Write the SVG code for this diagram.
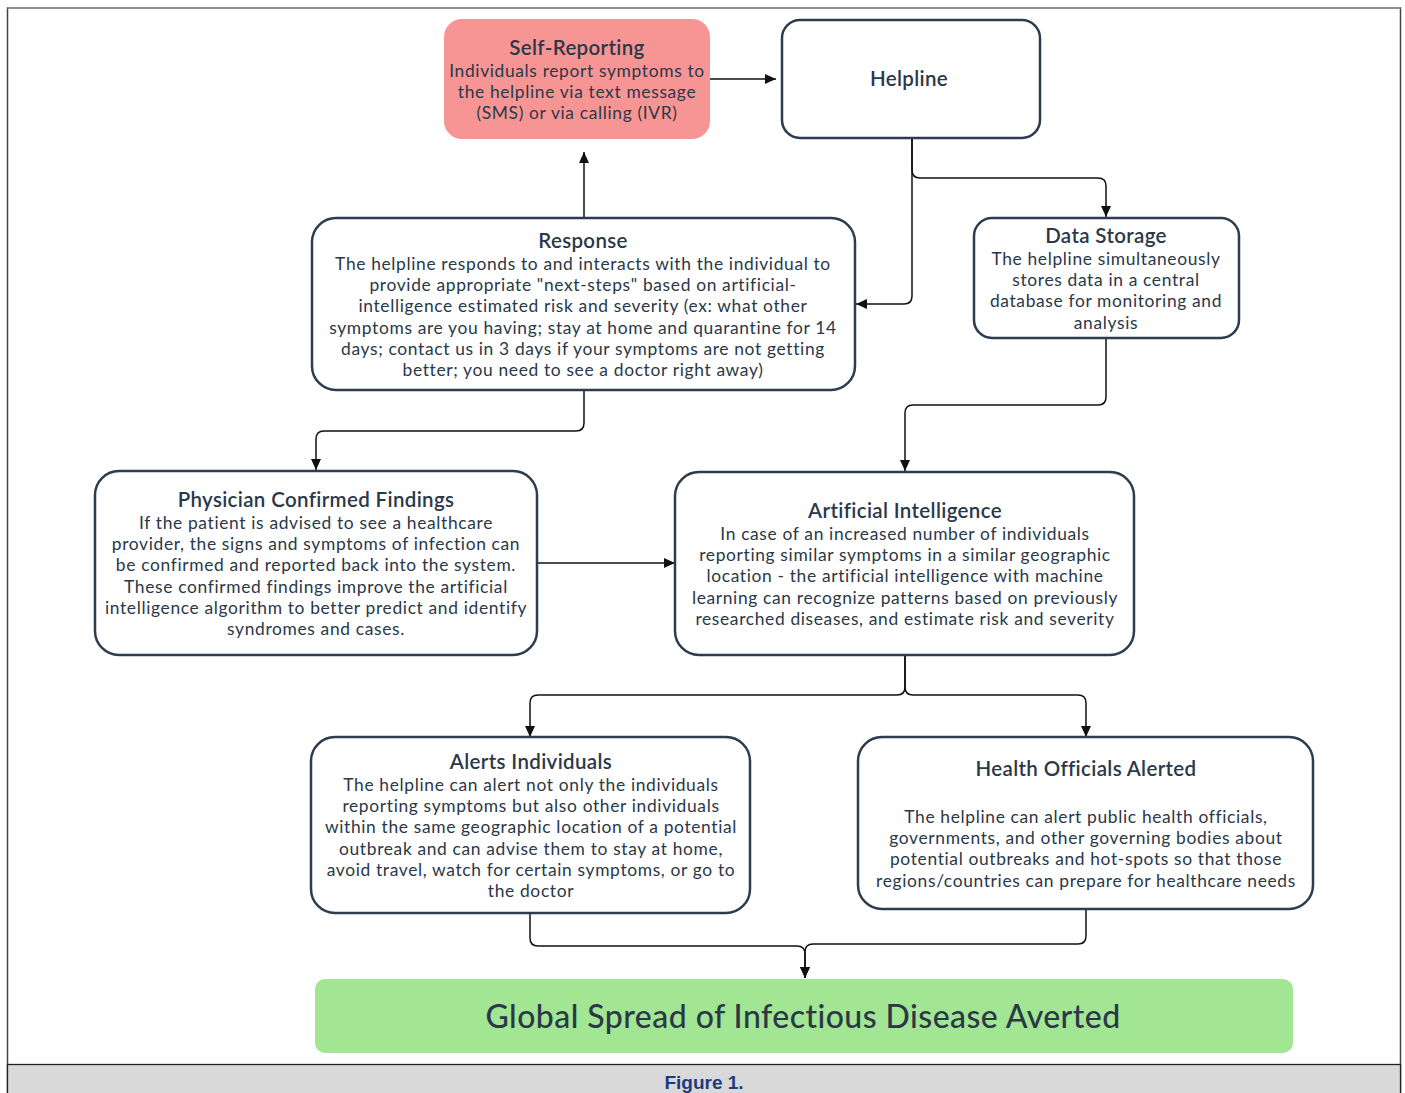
<svg xmlns="http://www.w3.org/2000/svg" width="1405" height="1093" viewBox="0 0 1405 1093">
<defs>
<marker id="arr" markerUnits="userSpaceOnUse" markerWidth="12" markerHeight="12" viewBox="0 0 12 12" refX="11" refY="6" orient="auto">
<path d="M0,1 L11,6 L0,11 Z" fill="#111"/>
</marker>
<style>
.box{fill:#fff;stroke:#2e3d4d;stroke-width:2.5}
.t{font-family:Lato,"Open Sans","Liberation Sans",sans-serif;fill:#2a3848;text-anchor:middle}
.h{font-size:20.5px;font-weight:600;letter-spacing:0.35px}
.b{font-size:17.4px;letter-spacing:0.65px}
.c{fill:none;stroke:#111;stroke-width:1.5;marker-end:url(#arr)}
</style>
</defs>
<rect x="0" y="0" width="1405" height="1093" fill="#fff"/>
<rect x="7.5" y="8" width="1393" height="1100" fill="#fff" stroke="#444" stroke-width="1.5"/>
<line x1="7.5" y1="8" x2="1400.5" y2="8" stroke="#999" stroke-width="1.5"/>
<rect x="7.5" y="1064.5" width="1393" height="40" fill="#d9d9d9" stroke="#222" stroke-width="1.3"/>
<text x="704" y="1089" font-family="'Liberation Sans',Arial,sans-serif" font-weight="bold" font-size="19" fill="#1d3b80" text-anchor="middle">Figure 1.</text>

<g id="connectors">
<path class="c" d="M710,79 H776"/>
<path class="c" d="M584,218 V152"/>
<path class="c" d="M912,138 V296 Q912,304 904,304 H856"/>
<path class="c" d="M912,138 V170 Q912,178 920,178 H1098 Q1106,178 1106,186 V217"/>
<path class="c" d="M1106,338 V397 Q1106,405 1098,405 H913 Q905,405 905,413 V471"/>
<path class="c" d="M584,390 V423 Q584,431 576,431 H324 Q316,431 316,439 V470"/>
<path class="c" d="M537,563 H675"/>
<path class="c" d="M905,655 V687 Q905,695 897,695 H538 Q530,695 530,703 V737"/>
<path class="c" d="M905,655 V687 Q905,695 913,695 H1078 Q1086,695 1086,703 V737"/>
<path class="c" d="M530,913 V938 Q530,946 538,946 H797 Q805,946 805,954 V978"/>
<path class="c" d="M1086,909 V936 Q1086,944 1078,944 H813 Q805,944 805,952 V978"/>
</g>

<g id="self-reporting">
<rect x="444" y="19" width="266" height="120" rx="18" fill="#f79595"/>
<text class="t h" x="577" y="55">Self-Reporting</text>
<text class="t b" x="577" y="77">Individuals report symptoms to</text>
<text class="t b" x="577" y="98">the helpline via text message</text>
<text class="t b" x="577" y="119">(SMS) or via calling (IVR)</text>
</g>

<g id="helpline">
<rect class="box" x="782" y="20" width="258" height="118" rx="18"/>
<text class="t h" x="909" y="86">Helpline</text>
</g>

<g id="response">
<rect class="box" x="312" y="218" width="543" height="172" rx="24"/>
<text class="t h" x="583" y="248">Response</text>
<text class="t b" x="583" y="270">The helpline responds to and interacts with the individual to</text>
<text class="t b" x="583" y="291.2">provide appropriate "next-steps" based on artificial-</text>
<text class="t b" x="583" y="312.4">intelligence estimated risk and severity (ex: what other</text>
<text class="t b" x="583" y="333.6">symptoms are you having; stay at home and quarantine for 14</text>
<text class="t b" x="583" y="354.8">days; contact us in 3 days if your symptoms are not getting</text>
<text class="t b" x="583" y="376">better; you need to see a doctor right away)</text>
</g>

<g id="data-storage">
<rect class="box" x="974" y="218" width="265" height="120" rx="18"/>
<text class="t h" x="1106" y="243">Data Storage</text>
<text class="t b" x="1106" y="265">The helpline simultaneously</text>
<text class="t b" x="1106" y="286.2">stores data in a central</text>
<text class="t b" x="1106" y="307.4">database for monitoring and</text>
<text class="t b" x="1106" y="328.6">analysis</text>
</g>

<g id="physician">
<rect class="box" x="95" y="471" width="442" height="184" rx="24"/>
<text class="t h" x="316" y="507">Physician Confirmed Findings</text>
<text class="t b" x="316" y="529">If the patient is advised to see a healthcare</text>
<text class="t b" x="316" y="550.2">provider, the signs and symptoms of infection can</text>
<text class="t b" x="316" y="571.4">be confirmed and reported back into the system.</text>
<text class="t b" x="316" y="592.6">These confirmed findings improve the artificial</text>
<text class="t b" x="316" y="613.8">intelligence algorithm to better predict and identify</text>
<text class="t b" x="316" y="635">syndromes and cases.</text>
</g>

<g id="ai">
<rect class="box" x="675" y="472" width="459" height="183" rx="24"/>
<text class="t h" x="905" y="518">Artificial Intelligence</text>
<text class="t b" x="905" y="540">In case of an increased number of individuals</text>
<text class="t b" x="905" y="561.2">reporting similar symptoms in a similar geographic</text>
<text class="t b" x="905" y="582.4">location - the artificial intelligence with machine</text>
<text class="t b" x="905" y="603.6">learning can recognize patterns based on previously</text>
<text class="t b" x="905" y="624.8">researched diseases, and estimate risk and severity</text>
</g>

<g id="alerts">
<rect class="box" x="311" y="737" width="439" height="176" rx="24"/>
<text class="t h" x="531" y="768.5">Alerts Individuals</text>
<text class="t b" x="531" y="791">The helpline can alert not only the individuals</text>
<text class="t b" x="531" y="812.2">reporting symptoms but also other individuals</text>
<text class="t b" x="531" y="833.4">within the same geographic location of a potential</text>
<text class="t b" x="531" y="854.6">outbreak and can advise them to stay at home,</text>
<text class="t b" x="531" y="875.8">avoid travel, watch for certain symptoms, or go to</text>
<text class="t b" x="531" y="897">the doctor</text>
</g>

<g id="health-officials">
<rect class="box" x="858" y="737" width="455" height="172" rx="24"/>
<text class="t h" x="1086" y="776">Health Officials Alerted</text>
<text class="t b" x="1086" y="823">The helpline can alert public health officials,</text>
<text class="t b" x="1086" y="844.2">governments, and other governing bodies about</text>
<text class="t b" x="1086" y="865.4">potential outbreaks and hot-spots so that those</text>
<text class="t b" x="1086" y="886.6">regions/countries can prepare for healthcare needs</text>
</g>

<g id="global">
<rect x="315" y="979" width="978" height="74" rx="10" fill="#a2e693"/>
<text class="t" x="803" y="1028" font-size="32" font-weight="500" letter-spacing="0.45" fill="#23344a">Global Spread of Infectious Disease Averted</text>
</g>
</svg>
